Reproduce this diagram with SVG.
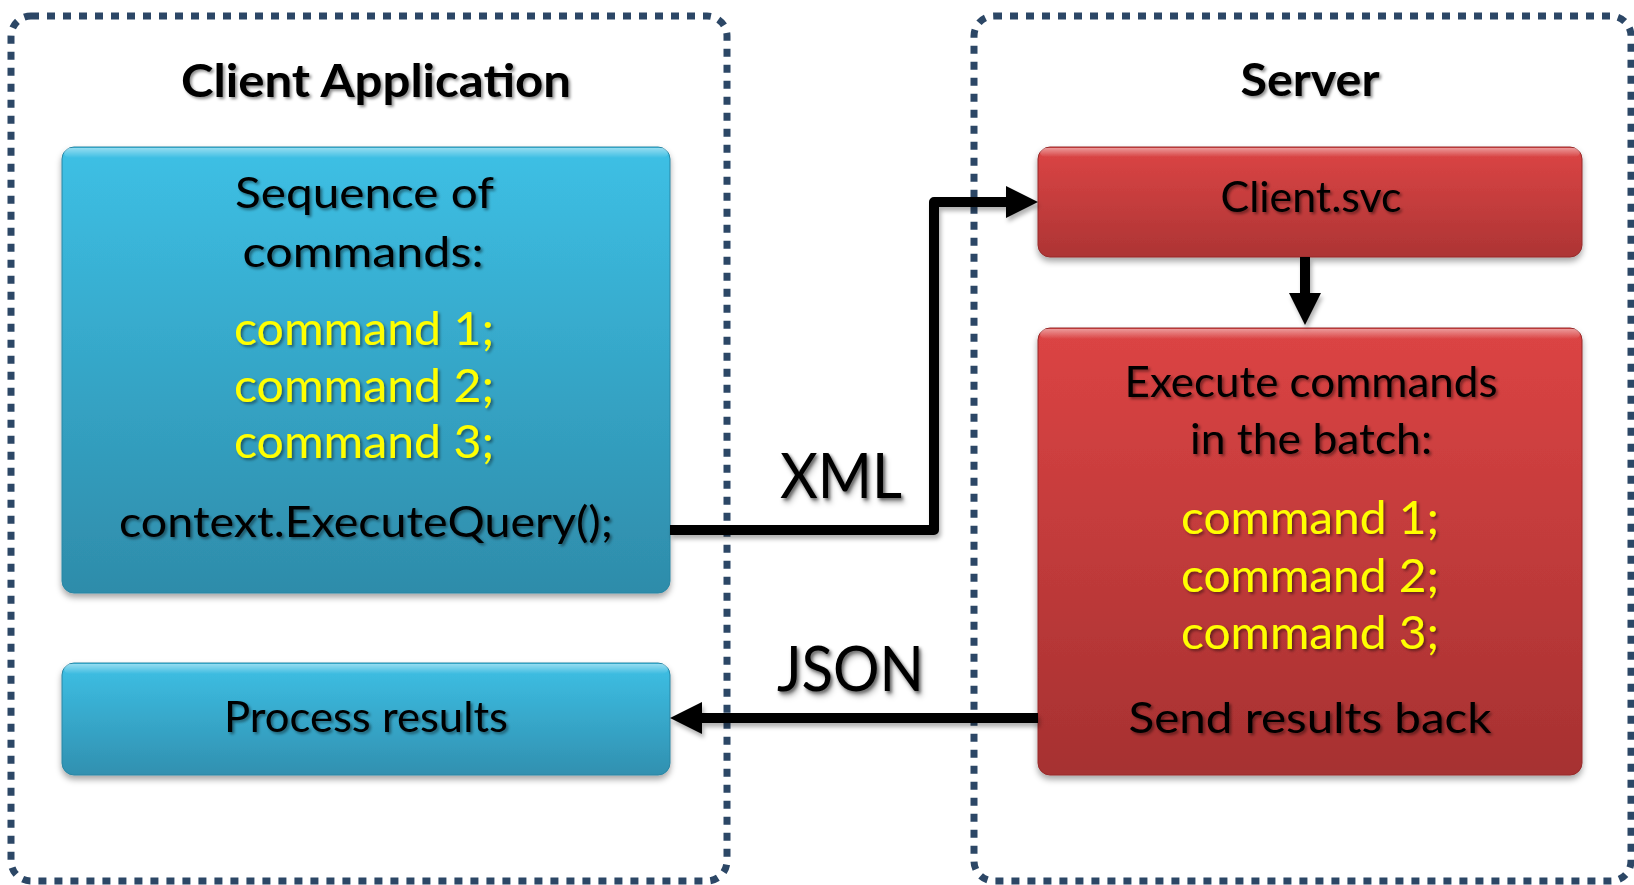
<svg xmlns="http://www.w3.org/2000/svg" width="1634" height="885" viewBox="0 0 1634 885">
  <defs>
    <style>
      .cont { fill: none; stroke: #2c4766; stroke-width: 7; stroke-dasharray: 8 8; }
      .title { font-family: Lato, "Liberation Sans", sans-serif; font-weight: bold; font-size: 46px; fill: #000; text-anchor: middle; }
      .lbl { font-family: Lato, "Liberation Sans", sans-serif; font-size: 43px; fill: #000; text-anchor: middle; }
      .cmd { font-family: Lato, "Liberation Sans", sans-serif; font-size: 47px; fill: #ffff00; text-anchor: middle; }
      .big { font-family: Lato, "Liberation Sans", sans-serif; font-size: 62px; fill: #000; text-anchor: middle; }
      .conn { fill: none; stroke: #000; stroke-width: 10; stroke-linejoin: round; }
      .blue { stroke: #2a86a4; stroke-width: 1; }
      .red { stroke: #962b2b; stroke-width: 1; }
      .hl { fill: url(#hl); }
    </style>
    <linearGradient id="gBlue" x1="0" y1="0" x2="0" y2="1">
      <stop offset="0" stop-color="#3dc0e5"/>
      <stop offset="1" stop-color="#2e8caa"/>
    </linearGradient>
    <linearGradient id="gBlue2" x1="0" y1="0" x2="0" y2="1">
      <stop offset="0" stop-color="#3dc0e5"/>
      <stop offset="1" stop-color="#3190b0"/>
    </linearGradient>
    <linearGradient id="gRed" x1="0" y1="0" x2="0" y2="1">
      <stop offset="0" stop-color="#dc4545"/>
      <stop offset="1" stop-color="#ad3434"/>
    </linearGradient>
    <linearGradient id="gRed2" x1="0" y1="0" x2="0" y2="1">
      <stop offset="0" stop-color="#dc4444"/>
      <stop offset="1" stop-color="#a63131"/>
    </linearGradient>
    <linearGradient id="hl" x1="0" y1="0" x2="0" y2="1">
      <stop offset="0" stop-color="#ffffff" stop-opacity="0.45"/>
      <stop offset="1" stop-color="#ffffff" stop-opacity="0"/>
    </linearGradient>
    <filter id="boxShadow" x="-5%" y="-5%" width="110%" height="115%">
      <feDropShadow dx="0" dy="4" stdDeviation="3" flood-color="#000" flood-opacity="0.35"/>
    </filter>
    <filter id="txtShadow" x="-5%" y="-20%" width="110%" height="150%">
      <feDropShadow dx="2" dy="2" stdDeviation="1.5" flood-color="#000" flood-opacity="0.45"/>
    </filter>
    <filter id="lineShadow" x="-10%" y="-10%" width="120%" height="130%">
      <feDropShadow dx="2" dy="4" stdDeviation="2" flood-color="#000" flood-opacity="0.3"/>
    </filter>
    <marker id="arrow" markerUnits="userSpaceOnUse" markerWidth="34" markerHeight="34" refX="0" refY="16" orient="auto" viewBox="0 0 34 34">
      <path d="M0,0 L32,16 L0,32 Z" fill="#000"/>
    </marker>
  </defs>

  <rect width="1634" height="885" fill="#ffffff"/>

  <g id="client-application">
    <rect class="cont" x="11" y="16" width="716" height="865" rx="20"/>
    <text class="title" x="376" y="97" textLength="390" lengthAdjust="spacingAndGlyphs" filter="url(#txtShadow)">Client Application</text>
  </g>

  <g id="server">
    <rect class="cont" x="974" y="16" width="657" height="865" rx="20"/>
    <text class="title" x="1310" y="96" textLength="139" lengthAdjust="spacingAndGlyphs" filter="url(#txtShadow)">Server</text>
  </g>

  <g id="sequence">
    <rect class="blue" x="62" y="147" width="608" height="446" rx="12" fill="url(#gBlue)" filter="url(#boxShadow)"/>
    <rect class="hl" x="64" y="148" width="604" height="10" rx="6"/>
    <g filter="url(#txtShadow)">
      <text class="lbl" x="364.5" y="208" textLength="259" lengthAdjust="spacingAndGlyphs">Sequence of</text>
      <text class="lbl" x="363" y="267" textLength="241" lengthAdjust="spacingAndGlyphs">commands:</text>
      <text class="cmd" x="364" y="345" textLength="260" lengthAdjust="spacingAndGlyphs">command 1;</text>
      <text class="cmd" x="364" y="402" textLength="260" lengthAdjust="spacingAndGlyphs">command 2;</text>
      <text class="cmd" x="364" y="458" textLength="260" lengthAdjust="spacingAndGlyphs">command 3;</text>
      <text class="lbl" x="366" y="537" font-size="46" textLength="494" lengthAdjust="spacingAndGlyphs">context.ExecuteQuery();</text>
    </g>
  </g>

  <g id="process-results">
    <rect class="blue" x="62" y="663" width="608" height="112" rx="12" fill="url(#gBlue2)" filter="url(#boxShadow)"/>
    <rect class="hl" x="64" y="664" width="604" height="10" rx="6"/>
    <text class="lbl" x="366" y="732" textLength="284" lengthAdjust="spacingAndGlyphs" filter="url(#txtShadow)">Process results</text>
  </g>

  <g id="client-svc">
    <rect class="red" x="1038" y="147" width="544" height="110" rx="12" fill="url(#gRed)" filter="url(#boxShadow)"/>
    <rect class="hl" x="1040" y="148" width="540" height="9" rx="6"/>
    <text class="lbl" x="1311" y="212" textLength="181" lengthAdjust="spacingAndGlyphs" filter="url(#txtShadow)">Client.svc</text>
  </g>

  <g id="execute">
    <rect class="red" x="1038" y="328" width="544" height="447" rx="12" fill="url(#gRed2)" filter="url(#boxShadow)"/>
    <rect class="hl" x="1040" y="329" width="540" height="10" rx="6"/>
    <g filter="url(#txtShadow)">
      <text class="lbl" x="1311" y="397" textLength="373" lengthAdjust="spacingAndGlyphs">Execute commands</text>
      <text class="lbl" x="1311" y="454" textLength="242" lengthAdjust="spacingAndGlyphs">in the batch:</text>
      <text class="cmd" x="1310" y="534" textLength="258" lengthAdjust="spacingAndGlyphs">command 1;</text>
      <text class="cmd" x="1310" y="592" textLength="258" lengthAdjust="spacingAndGlyphs">command 2;</text>
      <text class="cmd" x="1310" y="649" textLength="258" lengthAdjust="spacingAndGlyphs">command 3;</text>
      <text class="lbl" x="1310" y="733" font-size="46" textLength="363" lengthAdjust="spacingAndGlyphs">Send results back</text>
    </g>
  </g>

  <g id="connectors" filter="url(#lineShadow)">
    <path class="conn" d="M670,530 H934 V202 H1006" marker-end="url(#arrow)"/>
    <path class="conn" d="M1305,257 V293" marker-end="url(#arrow)"/>
    <path class="conn" d="M1038,718 H702" marker-end="url(#arrow)"/>
    <text class="big" x="841" y="498" textLength="122" lengthAdjust="spacingAndGlyphs" filter="url(#txtShadow)">XML</text>
    <text class="big" x="850.5" y="691" textLength="147" lengthAdjust="spacingAndGlyphs" filter="url(#txtShadow)">JSON</text>
  </g>
</svg>
